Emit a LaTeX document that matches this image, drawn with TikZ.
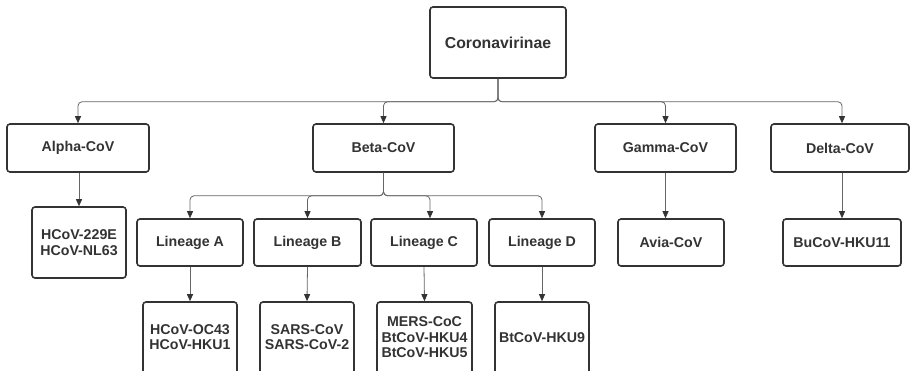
\documentclass[tikz,border=0pt]{standalone}
\usepackage{fontspec}
\setmainfont{Liberation Sans}
\usetikzlibrary{arrows.meta}
\definecolor{ink}{HTML}{333333}
\definecolor{wire}{HTML}{666666}
% member boxes run past the lower edge, so their text sits a little high
\newcommand{\memtext}[1]{\raisebox{4pt}{\begin{tabular}{@{}c@{}}#1\end{tabular}}}
\tikzset{
  box/.style={draw=ink, line width=1.6pt, rounded corners=3pt, fill=white,
    text=ink, align=center, inner sep=0pt,
    font=\fontsize{14.2}{15.5}\selectfont\bfseries},
  link/.style={draw=wire, line width=0.8pt, rounded corners=4pt,
    -{Triangle[length=7pt,width=6pt,fill=ink,color=ink]}},
}
\begin{document}
\begin{tikzpicture}[x=1pt,y=-1pt]
\useasboundingbox (0,0) rectangle (910,371);
\clip (0,0) rectangle (910,371);
% root
\node[box, minimum width=136pt, minimum height=71pt,
  font=\fontsize{15.8}{17}\selectfont\bfseries] (coro) at (498,42.5) {Coronavirinae};
% genera
\node[box, minimum width=142pt, minimum height=48pt] (alpha) at (78,148) {Alpha-CoV};
\node[box, minimum width=141pt, minimum height=48pt] (beta) at (383.5,148) {Beta-CoV};
\node[box, minimum width=141pt, minimum height=48pt] (gamma) at (665.5,148) {Gamma-CoV};
\node[box, minimum width=138pt, minimum height=48pt] (delta) at (840,148) {Delta-CoV};
% second level
\node[box, minimum width=94pt, minimum height=71pt] (alphac) at (79,242.5) {HCoV-229E\\HCoV-NL63};
\node[box, minimum width=106pt, minimum height=47pt] (linA) at (190,242.5) {Lineage A};
\node[box, minimum width=107pt, minimum height=47pt] (linB) at (307.5,242.5) {Lineage B};
\node[box, minimum width=106pt, minimum height=47pt] (linC) at (424,242.5) {Lineage C};
\node[box, minimum width=106pt, minimum height=47pt] (linD) at (542,242.5) {Lineage D};
\node[box, minimum width=106pt, minimum height=47pt] (avia) at (671,242.5) {Avia-CoV};
\node[box, minimum width=118pt, minimum height=47pt] (buco) at (842,242.5) {BuCoV-HKU11};
% lineage members
\node[box, minimum width=94pt, minimum height=74pt] (memA) at (190,339) {\memtext{HCoV-OC43\\HCoV-HKU1}};
\node[box, minimum width=94pt, minimum height=74pt] (memB) at (307,339) {\memtext{SARS-CoV\\SARS-CoV-2}};
\node[box, minimum width=95pt, minimum height=74pt] (memC) at (424.5,339) {\memtext{MERS-CoC\\BtCoV-HKU4\\BtCoV-HKU5}};
\node[box, minimum width=94pt, minimum height=74pt] (memD) at (542,339) {\memtext{BtCoV-HKU9}};
% root to genera
\draw[link] (coro.south) -- ++(0,23) -| (alpha.north);
\draw[link] (coro.south) -- ++(0,23) -| (beta.north);
\draw[link] (coro.south) -- ++(0,23) -| (gamma.north);
\draw[link] (coro.south) -- ++(0,23) -| ([xshift=2pt]delta.north);
% genera to children
\draw[link] (alphac.north |- alpha.south) -- (alphac.north);
\draw[link] (beta.south) -- ++(0,23) -| (linA.north);
\draw[link] (beta.south) -- ++(0,23) -| (linB.north);
\draw[link] (beta.south) -- ++(0,23) -| ([xshift=6pt]linC.north);
\draw[link] (beta.south) -- ++(0,23) -| (linD.north);
\draw[link] (gamma.south) -- (gamma.south |- avia.north);
\draw[link] (buco.north |- delta.south) -- (buco.north);
% lineages to members
\draw[link] (linA.south) -- (memA.north);
\draw[link] (linB.south) -- (memB.north);
\draw[link] (linC.south) -- (memC.north);
\draw[link] (linD.south) -- (memD.north);
\end{tikzpicture}
\end{document}
